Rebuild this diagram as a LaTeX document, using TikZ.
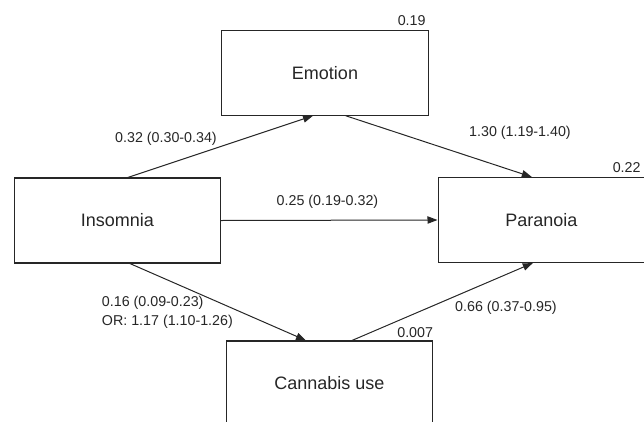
\documentclass[tikz,border=0pt]{standalone}
\usepackage{fontspec}
\setmainfont{Liberation Sans}
\usepackage{xcolor}
\usetikzlibrary{arrows.meta,calc}

\definecolor{ink}{HTML}{262626}

\tikzset{
    var/.style={draw=ink, line width=0.8pt, minimum width=154.9pt, minimum height=63.75pt,
        inner sep=0pt, text=ink, font=\fontsize{13.5}{16}\selectfont},
    coef/.style={text=ink, inner sep=0pt, font=\fontsize{10.7}{13.9}\selectfont},
    rsq/.style={coef, anchor=base east},
    link/.style={draw=ink, line width=0.75pt, -{Triangle[length=7.5pt,width=5.5pt]}}
}

\begin{document}
\begin{tikzpicture}[x=0.75pt, y=-0.75pt]
    \useasboundingbox (0,0) rectangle (644,422);
    % Variables
    \node[var] (ins) at (117.4,220.5) {Insomnia};
    \node[var] (emo) at (325.0, 72.7) {Emotion};
    \node[var] (par) at (541.3,220.0) {Paranoia};
    \node[var] (can) at (329.5,383.5) {Cannabis use};
    % Explained variance
    \node[rsq] (r2emo) at ($(emo.north east)+(-3.0,-4.0)$) {0.19};
    \node[rsq] (r2par) at ($(par.north east)+(-4.3,-4.7)$) {0.22};
    \node[rsq] (r2can) at ($(can.north east)+( 0.0,-3.0)$) {0.007};
    % Paths
    % Insomnia to Emotion
    \draw[link] ($(ins.north)+(10.5,0)$) -- ($(emo.south)+(-12,0)$);
    % Emotion to Paranoia
    \draw[link] ($(emo.south)+(20.7,0)$) -- ($(par.north)+(-9.5,0)$);
    % Insomnia to Paranoia (direct)
    \draw[link] (ins.east) -- (par.west);
    % Insomnia to Cannabis use
    \draw[link] ($(ins.south)+(12.5,0)$) -- ($(can.north)+(-23.5,0)$);
    % Cannabis use to Paranoia
    \draw[link] ($(can.north)+(22.5,0)$) -- ($(par.south)+(-8.5,0)$);
    % Coefficients
    \node[coef, anchor=base] (c1) at (166.0,142.5) {0.32 (0.30-0.34)};
    \node[coef, anchor=base] (c2) at (520.0,136.0) {1.30 (1.19-1.40)};
    \node[coef, anchor=base] (c3) at (327.5,205.0) {0.25 (0.19-0.32)};
    \node[coef, anchor=west, align=left] (c4) at (101.7,312.5) {0.16 (0.09-0.23)\\OR: 1.17 (1.10-1.26)};
    \node[coef, anchor=base] (c5) at (506.0,311.0) {0.66 (0.37-0.95)};
\end{tikzpicture}
\end{document}
